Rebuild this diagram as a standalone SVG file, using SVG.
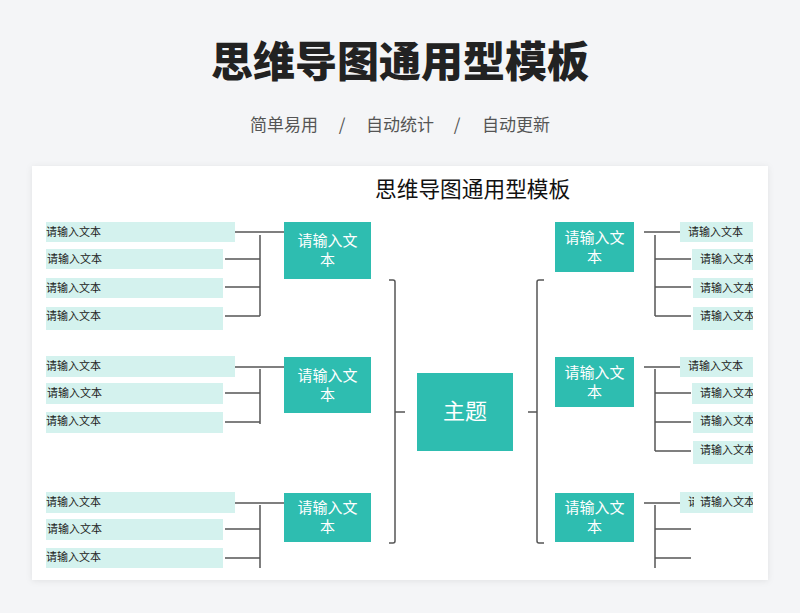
<svg xmlns="http://www.w3.org/2000/svg" width="800" height="613" viewBox="0 0 800 613">
<defs>
<style>
.t{font-family:"Noto Sans CJK SC","Noto Sans",sans-serif;}
.big{font-size:42px;font-weight:900;fill:#222;}
.sub{font-size:17px;fill:#555;}
.ct{font-size:21.7px;font-weight:400;fill:#111;}
.lt{fill:#d4f2ee;}
.tl{fill:#2ebdb0;}
.s{font-size:11px;fill:#222;}
.w{font-size:15px;fill:#fff;text-anchor:middle;}
.c{stroke:#555;stroke-width:1.5;fill:none;}
</style>
<filter id="sh" x="-5%" y="-5%" width="110%" height="110%">
<feDropShadow dx="0" dy="1" stdDeviation="3" flood-color="#000" flood-opacity="0.08"/>
</filter>
<clipPath id="cut"><rect x="680" y="492" width="14" height="21"/></clipPath>
</defs>
<rect width="800" height="613" fill="#f4f5f7"/>
<text class="t big" x="400" y="77" text-anchor="middle">思维导图通用型模板</text>
<text class="t sub" x="250" y="131">简单易用</text>
<text class="t sub" x="342" y="131" text-anchor="middle">/</text>
<text class="t sub" x="366" y="131">自动统计</text>
<text class="t sub" x="457" y="131" text-anchor="middle">/</text>
<text class="t sub" x="482" y="131">自动更新</text>
<rect x="32" y="166" width="736" height="414" fill="#fff" filter="url(#sh)"/>
<text class="t ct" x="375" y="197">思维导图通用型模板</text>

<g id="connectors">
<path class="c" d="M235 232H284M260 235V316M225 259H260M225 287H260M225 316H260"/>
<path class="c" d="M235 367H284M260 369V424M225 393H260M225 422H260"/>
<path class="c" d="M235 503H284M260 505V568M225 529H260M225 558H260"/>
<path class="c" d="M389 280H393Q395 280 395 282V541Q395 543 393 543H389M395 412H405"/>
<path class="c" d="M544 280H539Q537 280 537 282V541Q537 543 539 543H544M528 412H537"/>
<path class="c" d="M644 232H680M655 235V316M655 259H691M655 287H691M655 316H691"/>
<path class="c" d="M644 367H680M655 369V451M655 393H691M655 422H691M655 451H691"/>
<path class="c" d="M644 503H680M655 505V568M655 529H691M655 558H691"/>
</g>

<g id="center">
<rect class="tl" x="417" y="373" width="96" height="78"/>
<text class="t" x="465" y="419" font-size="22" fill="#fff" text-anchor="middle">主题</text>
</g>

<g id="L1">
<rect class="tl" x="284" y="222" width="87" height="57"/>
<text class="t w" x="327.5" y="246">请输入文</text>
<text class="t w" x="327.5" y="265">本</text>
</g>
<g id="L2">
<rect class="tl" x="284" y="357" width="87" height="56"/>
<text class="t w" x="327.5" y="381">请输入文</text>
<text class="t w" x="327.5" y="400">本</text>
</g>
<g id="L3">
<rect class="tl" x="284" y="493" width="87" height="49"/>
<text class="t w" x="327.5" y="513">请输入文</text>
<text class="t w" x="327.5" y="532">本</text>
</g>
<g id="R1">
<rect class="tl" x="555" y="222" width="79" height="50"/>
<text class="t w" x="594.5" y="243">请输入文</text>
<text class="t w" x="594.5" y="262">本</text>
</g>
<g id="R2">
<rect class="tl" x="555" y="357" width="79" height="50"/>
<text class="t w" x="594.5" y="378">请输入文</text>
<text class="t w" x="594.5" y="397">本</text>
</g>
<g id="R3">
<rect class="tl" x="555" y="493" width="79" height="49"/>
<text class="t w" x="594.5" y="513">请输入文</text>
<text class="t w" x="594.5" y="532">本</text>
</g>

<g id="L1a"><rect class="lt" x="46" y="222" width="189" height="20"/><text class="t s" x="46" y="236">请输入文本</text></g>
<g id="L1b"><rect class="lt" x="46" y="249" width="177" height="20"/><text class="t s" x="47" y="263">请输入文本</text></g>
<g id="L1c"><rect class="lt" x="46" y="278" width="177" height="20"/><text class="t s" x="46" y="292">请输入文本</text></g>
<g id="L1d"><rect class="lt" x="46" y="307" width="177" height="23"/><text class="t s" x="46" y="320">请输入文本</text></g>

<g id="L2a"><rect class="lt" x="46" y="356" width="189" height="21"/><text class="t s" x="46" y="370">请输入文本</text></g>
<g id="L2b"><rect class="lt" x="46" y="383" width="177" height="21"/><text class="t s" x="47" y="397">请输入文本</text></g>
<g id="L2c"><rect class="lt" x="46" y="412" width="177" height="21"/><text class="t s" x="46" y="425">请输入文本</text></g>

<g id="L3a"><rect class="lt" x="46" y="492" width="189" height="21"/><text class="t s" x="46" y="506">请输入文本</text></g>
<g id="L3b"><rect class="lt" x="46" y="519" width="177" height="21"/><text class="t s" x="47" y="533">请输入文本</text></g>
<g id="L3c"><rect class="lt" x="46" y="548" width="177" height="20"/><text class="t s" x="46" y="561">请输入文本</text></g>

<g id="R1a"><rect class="lt" x="680" y="222" width="73" height="20"/><text class="t s" x="688" y="236">请输入文本</text></g>
<g id="R1b"><rect class="lt" x="692" y="249" width="61" height="21"/><text class="t s" x="700" y="263">请输入文本</text></g>
<g id="R1c"><rect class="lt" x="693" y="278" width="60" height="20"/><text class="t s" x="700" y="292">请输入文本</text></g>
<g id="R1d"><rect class="lt" x="693" y="307" width="60" height="23"/><text class="t s" x="700" y="320">请输入文本</text></g>

<g id="R2a"><rect class="lt" x="680" y="357" width="73" height="20"/><text class="t s" x="688" y="370">请输入文本</text></g>
<g id="R2b"><rect class="lt" x="692" y="383" width="61" height="21"/><text class="t s" x="700" y="397">请输入文本</text></g>
<g id="R2c"><rect class="lt" x="693" y="412" width="60" height="21"/><text class="t s" x="700" y="425">请输入文本</text></g>
<g id="R2d"><rect class="lt" x="693" y="441" width="60" height="23"/><text class="t s" x="700" y="454">请输入文本</text></g>

<g id="R3a"><rect class="lt" x="680" y="492" width="73" height="21"/><text class="t s" x="688" y="506" clip-path="url(#cut)">请</text><text class="t s" x="700" y="506">请输入文本</text></g>
<rect x="753" y="215" width="15" height="360" fill="#fff"/>
</svg>
